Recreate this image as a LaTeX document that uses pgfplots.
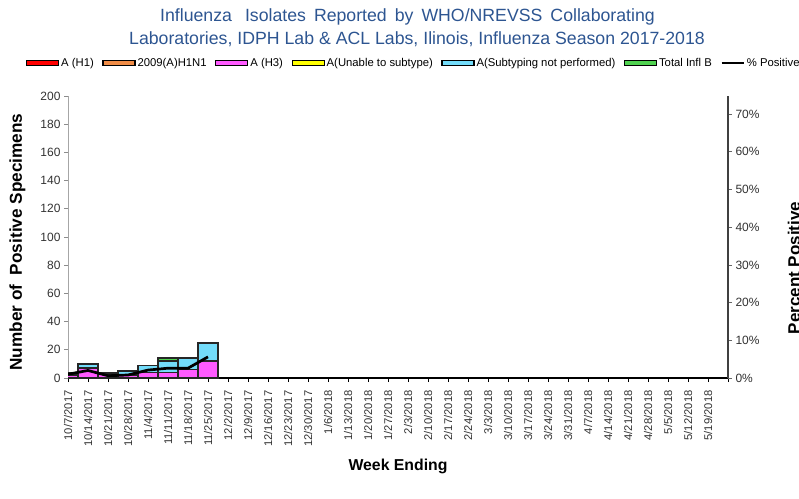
\documentclass[border=0pt]{standalone}
\usepackage{fontspec}
\setmainfont{Liberation Sans}
\usepackage{pgfplots}
\pgfplotsset{compat=1.18}
\definecolor{titleblue}{RGB}{45,85,145}
\definecolor{cH1}{RGB}{255,0,0}
\definecolor{cPdm}{RGB}{240,140,70}
\definecolor{cH3}{RGB}{255,90,255}
\definecolor{cUn}{RGB}{255,255,0}
\definecolor{cNP}{RGB}{115,220,250}
\definecolor{cB}{RGB}{80,210,80}
\definecolor{ticktext}{RGB}{50,50,50}
\begin{document}
\begin{tikzpicture}[x=1pt,y=1pt]
\path[use as bounding box] (0,0) rectangle (799,498);
\node[font=\fontsize{17.7}{20}\selectfont, text=titleblue, anchor=base] at (407.5,476) {\spaceskip=8pt plus 1pt minus 1pt Influenza\hspace{8pt}\hspace{5pt}Isolates Reported by WHO/NREVSS Collaborating};
\node[font=\fontsize{17.7}{20}\selectfont, text=titleblue, anchor=base] at (417,453) {Laboratories, IDPH Lab \& ACL Labs, Ilinois, Influenza Season 2017-2018};
\node[font=\fontsize{17.2}{19}\selectfont\bfseries, rotate=90] at (17.5,256) {Number of\ \ Positive Specimens};
\node[font=\fontsize{15.8}{18}\selectfont\bfseries, anchor=base] at (398,28) {Week Ending};
\node[font=\fontsize{17}{19}\selectfont\bfseries, rotate=90] at (794,230) {Percent Positive};

\begin{axis}[
  at={(68pt,120pt)}, anchor=south west, scale only axis,
  width=660pt, height=282pt,
  xmin=0, xmax=33, ymin=0, ymax=200,
  ybar stacked, bar width=1,
  axis x line*=bottom, axis y line*=left,
  x axis line style={black, line width=1.8pt},
  y axis line style={black!35, line width=1pt},
  tick align=outside, major tick length=4pt,
  ytick={0,20,...,200},
  y tick style={black!45, line width=0.8pt},
  x tick style={black, line width=0.8pt},
  /pgf/number format/assume math mode=true,
  yticklabel style={font=\fontsize{12}{14}\selectfont, text=ticktext},
  xtick={0,...,33},
  xticklabels={10/7/2017,10/14/2017,10/21/2017,10/28/2017,11/4/2017,11/11/2017,11/18/2017,11/25/2017,12/2/2017,12/9/2017,12/16/2017,12/23/2017,12/30/2017,1/6/2018,1/13/2018,1/20/2018,1/27/2018,2/3/2018,2/10/2018,2/17/2018,2/24/2018,3/3/2018,3/10/2018,3/17/2018,3/24/2018,3/31/2018,4/7/2018,4/14/2018,4/21/2018,4/28/2018,5/5/2018,5/12/2018,5/19/2018,{}},
  xticklabel shift=5pt,
  xticklabel style={rotate=90, anchor=east, font=\fontsize{11.2}{13}\selectfont, text=ticktext},
  legend columns=7,
  legend cell align=left,
  legend style={at={(-0.0636,1.117)}, anchor=west, draw=none, fill=none,
    font=\fontsize{11.3}{13}\selectfont, inner sep=0pt, outer sep=0pt,
    /tikz/every even column/.append style={column sep=6.5pt}},
  legend image code/.code={\draw[#1,/tikz/.cd,line width=1.2pt,draw=black] (0pt,-2.8pt) rectangle (32pt,2.8pt);},
  every axis plot/.append style={draw=black!85, line width=1.6pt},
]
\addplot[fill=cH1] coordinates {(0,0) (1,0) (2,0) (3,0) (4,0) (5,0) (6,0) (7,0)};
\addlegendentry{A (H1)}
\addplot[fill=cPdm] coordinates {(0,0) (1,0) (2,0) (3,0) (4,0) (5,0) (6,0) (7,0)};
\addlegendentry{2009(A)H1N1}
\addplot[fill=cH3] coordinates {(0,2) (1,7) (2,3) (3,2) (4,4) (5,4) (6,6) (7,12)};
\addlegendentry{A (H3)}
\addplot[fill=cUn] coordinates {(0,0) (1,0) (2,0) (3,0) (4,0) (5,0) (6,0) (7,0)};
\addlegendentry{A(Unable to subtype)}
\addplot[fill=cNP] coordinates {(0,2) (1,3) (2,1) (3,3) (4,5) (5,8) (6,8) (7,13)};
\addlegendentry{A(Subtyping not performed)}
\addplot[fill=cB] coordinates {(0,0) (1,0) (2,0) (3,0) (4,0) (5,2) (6,0) (7,0)};
\addlegendentry{Total Infl B}
\addlegendimage{legend image code/.code={\draw[black,line width=2.5pt] (0pt,0pt) -- (22pt,0pt);}}
\addlegendentry{\% Positive}
\end{axis}

\begin{axis}[
  at={(68pt,120pt)}, anchor=south west, scale only axis,
  width=660pt, height=282pt,
  xmin=0, xmax=33, ymin=0, ymax=74.8,
  axis x line=none, axis y line*=right,
  y axis line style={black!75, line width=1.2pt},
  tick align=outside, major tick length=4pt,
  ytick={0,10,...,70},
  y tick style={black!60, line width=0.8pt},
  /pgf/number format/assume math mode=true,
  yticklabel={\pgfmathprintnumber{\tick}\%},
  yticklabel style={font=\fontsize{12}{14}\selectfont, text=ticktext},
]
\addplot[black, line width=2.7pt, mark=none] coordinates {(0,1.0) (1,2.0) (2,0.6) (3,0.8) (4,2.1) (5,2.6) (6,2.6) (7,5.6)};
\end{axis}
\end{tikzpicture}
\end{document}
